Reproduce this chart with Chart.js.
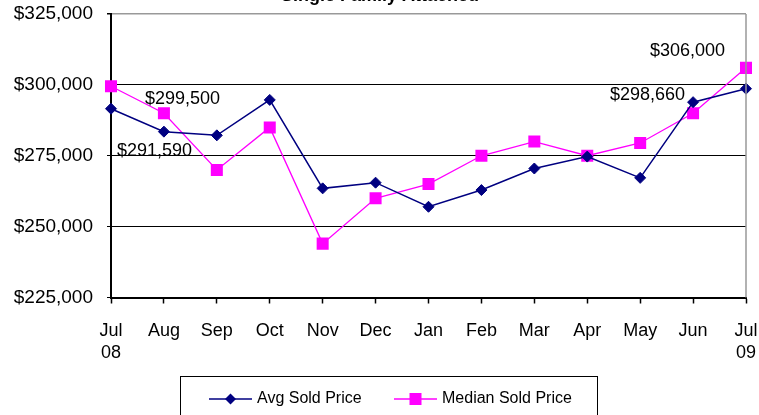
<!DOCTYPE html>
<html>
<head>
<meta charset="utf-8">
<script src="https://cdn.jsdelivr.net/npm/chart.js@4.4.1/dist/chart.umd.min.js"></script>
<style>
  html, body { margin: 0; padding: 0; background: #fff; }
  canvas { display: block; }
</style>
</head>
<body>
<canvas id="priceChart" width="759" height="415"></canvas>
<script>
const months = [["Jul", "08"], "Aug", "Sep", "Oct", "Nov", "Dec", "Jan", "Feb", "Mar", "Apr", "May", "Jun", ["Jul", "09"]];
const avgSold = [291590, 283500, 282200, 294700, 263500, 265500, 257000, 262900, 270500, 274700, 267200, 293900, 298660];
const medianSold = [299500, 290000, 270000, 285000, 244000, 260000, 265000, 275000, 280000, 275000, 279500, 290000, 306000];
const yMin = 225000, yMax = 325000, yStep = 25000;

const chartTitle = "Single Family Attached";
const FONT = '"Liberation Sans", Arial, sans-serif';

// value callouts: which point, and where the text sits relative to it
const callouts = [
  { ds: 1, i: 0, dx: 34, dy: 13, align: "left" },
  { ds: 0, i: 0, dx: 6, dy: 42, align: "left" },
  { ds: 1, i: 12, dx: -21, dy: -17, align: "right" },
  { ds: 0, i: 12, dx: -61, dy: 6, align: "right" },
];

const money = (v) => "$" + v.toLocaleString("en-US");

const extras = {
  id: "extras",
  afterDraw(chart) {
    const c = chart.ctx;
    const area = chart.chartArea;
    c.save();

    // right frame line
    c.strokeStyle = "#999";
    c.lineWidth = 1.5;
    c.beginPath();
    c.moveTo(area.right, area.top);
    c.lineTo(area.right, area.bottom);
    c.stroke();

    // clipped title at the very top
    c.fillStyle = "#000";
    c.font = "bold 18px " + FONT;
    c.textAlign = "center";
    c.textBaseline = "alphabetic";
    c.fillText(chartTitle, 380, 1);

    // value callouts
    c.font = "18px " + FONT;
    c.textBaseline = "middle";
    callouts.forEach((o) => {
      const pt = chart.getDatasetMeta(o.ds).data[o.i];
      const v = chart.data.datasets[o.ds].data[o.i];
      c.textAlign = o.align;
      c.fillText(money(v), pt.x + o.dx, pt.y + o.dy);
    });

    // boxed legend
    c.strokeStyle = "#000";
    c.lineWidth = 1;
    c.strokeRect(180.5, 376.5, 417, 60);
    const itemX = [209, 394];
    const ly = 399;
    c.font = "16px " + FONT;
    c.textAlign = "left";
    chart.data.datasets.forEach((ds, k) => {
      const x0 = itemX[k];
      c.strokeStyle = ds.borderColor;
      c.lineWidth = ds.borderWidth;
      c.beginPath();
      c.moveTo(x0, ly);
      c.lineTo(x0 + 43, ly);
      c.stroke();
      c.fillStyle = ds.pointBackgroundColor;
      const mx = x0 + 21.5;
      if (ds.pointStyle === "rectRot") {
        c.beginPath();
        c.moveTo(mx, ly - 5.5);
        c.lineTo(mx + 5.5, ly);
        c.lineTo(mx, ly + 5.5);
        c.lineTo(mx - 5.5, ly);
        c.closePath();
        c.fill();
      } else {
        c.fillRect(mx - 6, ly - 6, 12, 12);
      }
      c.fillStyle = "#000";
      c.fillText(ds.label, x0 + 48, ly);
    });

    c.restore();
  },
};

var ctx = document.getElementById("priceChart").getContext("2d");

var priceChart = new Chart(ctx, {
  type: "line",
  data: {
    labels: months,
    datasets: [
      {
        label: "Avg Sold Price",
        data: avgSold,
        borderColor: "#000080",
        backgroundColor: "#000080",
        borderWidth: 1.5,
        pointStyle: "rectRot",
        pointRadius: 5.5,
        pointBorderWidth: 1,
        pointBackgroundColor: "#000080",
        pointBorderColor: "#000080",
        tension: 0,
      },
      {
        label: "Median Sold Price",
        data: medianSold,
        borderColor: "#ff00ff",
        backgroundColor: "#ff00ff",
        borderWidth: 1.3,
        pointStyle: "rect",
        pointRadius: 8.5,
        pointBorderWidth: 0,
        pointBackgroundColor: "#ff00ff",
        pointBorderColor: "#ff00ff",
        tension: 0,
      },
    ],
  },
  options: {
    responsive: false,
    animation: false,
    layout: { padding: { top: 14, right: 13, bottom: 0, left: 0 } },
    plugins: {
      legend: { display: false },
      title: { display: false },
      tooltip: { enabled: false },
    },
    scales: {
      x: {
        offset: false,
        afterFit: (scale) => {
          scale.height = 117.5;
          scale.paddingLeft = 0;
          scale.paddingRight = 0;
        },
        grid: {
          drawOnChartArea: false,
          drawTicks: true,
          tickLength: 6,
          tickColor: "#000",
          tickWidth: 1.5,
        },
        border: { color: "#000", width: 2 },
        ticks: {
          color: "#000",
          padding: 17,
          maxRotation: 0,
          autoSkip: false,
          font: { family: FONT, size: 18 },
        },
      },
      y: {
        min: yMin,
        max: yMax,
        afterFit: (scale) => {
          scale.width = 111;
          scale.paddingTop = 0;
          scale.paddingBottom = 0;
        },
        grid: {
          color: (c) => (c.tick && c.tick.value === yMax ? "#999" : "#000"),
          lineWidth: (c) => (c.tick && c.tick.value === yMax ? 1.5 : 1),
          tickLength: 4,
          tickColor: "#000",
        },
        border: { color: "#000", width: 2 },
        ticks: {
          stepSize: yStep,
          color: "#000",
          padding: 14,
          font: { family: FONT, size: 19 },
          callback: (v) => money(v),
        },
      },
    },
  },
  plugins: [extras],
});
</script>
</body>
</html>
